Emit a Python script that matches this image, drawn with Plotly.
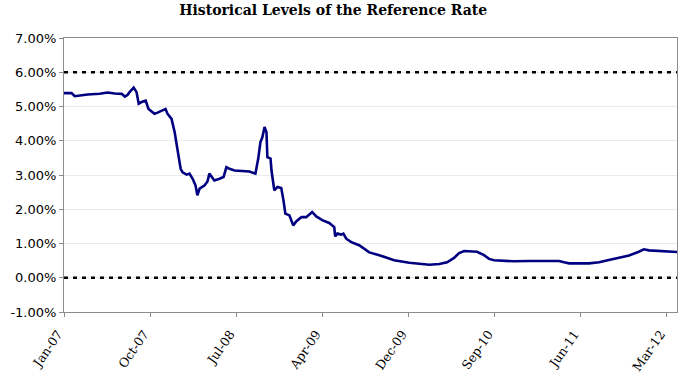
import plotly.graph_objects as go

# Reference rate history (percent)
dates = [
    "2007-01-03", "2007-01-27", "2007-02-06", "2007-02-22", "2007-03-19", "2007-04-26",
    "2007-05-21", "2007-06-13", "2007-07-05", "2007-07-15", "2007-07-24", "2007-07-30",
    "2007-08-12", "2007-08-21", "2007-08-28", "2007-09-06", "2007-09-19", "2007-09-28",
    "2007-10-08", "2007-10-17", "2007-10-27", "2007-11-12", "2007-11-21", "2007-11-27",
    "2007-12-10", "2007-12-20", "2007-12-26", "2008-01-01", "2008-01-08", "2008-01-14",
    "2008-01-27", "2008-02-05", "2008-02-15", "2008-02-24", "2008-03-01", "2008-03-08",
    "2008-03-24", "2008-04-02", "2008-04-08", "2008-04-15", "2008-04-24", "2008-05-10",
    "2008-05-23", "2008-06-01", "2008-06-11", "2008-06-27", "2008-07-12", "2008-08-13",
    "2008-09-01", "2008-09-10", "2008-09-17", "2008-09-23", "2008-09-30", "2008-10-06",
    "2008-10-09", "2008-10-19", "2008-10-22", "2008-10-28", "2008-10-31", "2008-11-10",
    "2008-11-22", "2008-11-29", "2008-12-05", "2008-12-18", "2008-12-30", "2009-01-09",
    "2009-01-25", "2009-02-09", "2009-02-28", "2009-03-13", "2009-04-01", "2009-04-23",
    "2009-05-09", "2009-05-12", "2009-05-19", "2009-05-31", "2009-06-07", "2009-06-16",
    "2009-07-02", "2009-07-27", "2009-08-28", "2009-09-29", "2009-11-15", "2010-01-02",
    "2010-02-03", "2010-03-06", "2010-04-07", "2010-05-02", "2010-05-24", "2010-06-09",
    "2010-06-25", "2010-07-17", "2010-08-05", "2010-08-27", "2010-09-12", "2010-09-28",
    "2010-10-29", "2010-11-30", "2011-01-17", "2011-04-22", "2011-05-08", "2011-05-24",
    "2011-07-26", "2011-08-27", "2011-09-27", "2011-10-29", "2011-11-30", "2011-12-31",
    "2012-01-16", "2012-02-01", "2012-03-04", "2012-04-05", "2012-04-30",
]
rate = [
    5.39, 5.39, 5.30, 5.32, 5.35, 5.37,
    5.41, 5.38, 5.37, 5.29, 5.34, 5.42,
    5.55, 5.42, 5.08, 5.13, 5.17, 4.93,
    4.85, 4.79, 4.82, 4.88, 4.93, 4.79,
    4.64, 4.25, 3.86, 3.57, 3.18, 3.08,
    3.01, 3.04, 2.89, 2.70, 2.41, 2.60,
    2.70, 2.81, 3.04, 2.94, 2.84, 2.89,
    2.94, 3.23, 3.18, 3.13, 3.12, 3.10,
    3.04, 3.48, 3.96, 4.10, 4.40, 4.25,
    3.52, 3.48, 3.13, 2.75, 2.55, 2.65,
    2.62, 2.26, 1.87, 1.82, 1.53, 1.65,
    1.77, 1.77, 1.92, 1.79, 1.68, 1.60,
    1.48, 1.21, 1.29, 1.26, 1.29, 1.14,
    1.04, 0.95, 0.74, 0.66, 0.51, 0.44,
    0.40, 0.38, 0.40, 0.45, 0.58, 0.72,
    0.78, 0.78, 0.76, 0.66, 0.55, 0.51,
    0.50, 0.48, 0.49, 0.49, 0.45, 0.42,
    0.42, 0.45, 0.52, 0.58, 0.65, 0.76,
    0.83, 0.80, 0.78, 0.75, 0.75,
]

reference_levels = [6.0, 0.0]

tick_dates = ["2007-01-03", "2007-10-03", "2008-07-02", "2009-04-01",
              "2009-12-30", "2010-09-29", "2011-06-29", "2012-03-28"]
tick_labels = ["Jan-07", "Oct-07", "Jul-08", "Apr-09", "Dec-09", "Sep-10", "Jun-11", "Mar-12"]

y_tick_values = [-1, 0, 1, 2, 3, 4, 5, 6, 7]
y_tick_labels = ["-1.00%", "0.00%", "1.00%", "2.00%", "3.00%", "4.00%", "5.00%", "6.00%", "7.00%"]

x_range = ["2007-01-03", "2012-04-30"]
y_range = [-1, 7]

fig = go.Figure()
fig.add_trace(go.Scatter(
    x=dates, y=rate, mode="lines",
    line=dict(color="#000080", width=2.6),
    showlegend=False, hoverinfo="x+y",
))

for lvl in reference_levels:
    fig.add_hline(y=lvl, line=dict(color="black", width=2.5, dash="4px,5px"))

fig.update_layout(
    width=680, height=375,
    margin=dict(l=64, r=3, t=38, b=63),
    paper_bgcolor="white", plot_bgcolor="white",
    title=dict(
        text="<b>Historical Levels of the Reference Rate</b>",
        x=0.49, xanchor="center", y=0.972, yanchor="middle",
        font=dict(family="DejaVu Serif", size=14, color="black"),
    ),
)
fig.update_xaxes(
    type="date", range=x_range, automargin=False,
    tickvals=tick_dates, ticktext=tick_labels, tickangle=-55,
    tickfont=dict(family="DejaVu Serif", size=12.5, color="black"),
    ticklabelstandoff=5, ticklabelshift=-6,
    showgrid=False, showline=True, linecolor="#8c8c8c", linewidth=1, mirror=True,
    ticks="outside", ticklen=4, tickcolor="#8c8c8c", zeroline=False,
)
fig.update_yaxes(
    range=y_range, tickvals=y_tick_values, ticktext=y_tick_labels, automargin=False,
    tickfont=dict(family="DejaVu Sans", size=13, color="black"),
    showgrid=True, gridcolor="#ebebeb", gridwidth=1,
    showline=True, linecolor="#8c8c8c", linewidth=1, mirror=True,
    ticks="outside", ticklen=4, tickcolor="#8c8c8c", zeroline=False,
)

fig.write_html(
    "out.html",
    config={"displayModeBar": False},
    post_script="document.body.style.margin='0';document.body.style.padding='0';",
)
